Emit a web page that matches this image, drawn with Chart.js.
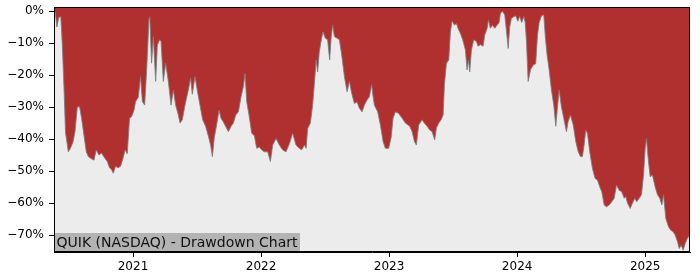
<!DOCTYPE html>
<html>
<head>
<meta charset="utf-8">
<script src="https://cdn.jsdelivr.net/npm/chart.js@4/dist/chart.umd.min.js"></script>
<style>
  html, body { margin: 0; padding: 0; background: #ffffff; }
  #wrap { position: relative; width: 700px; height: 280px; }
</style>
</head>
<body>
<div id="wrap"><canvas id="c" width="700" height="280"></canvas></div>
<script>
// Decimal-year time stamps (x) and drawdown in percent (y)
const dates = [
  2020.383, 2020.393, 2020.406, 2020.420, 2020.436, 2020.448, 2020.461, 2020.473, 2020.495, 2020.510,
  2020.531, 2020.547, 2020.565, 2020.583, 2020.598, 2020.617, 2020.635, 2020.651, 2020.669, 2020.695,
  2020.713, 2020.734, 2020.755, 2020.773, 2020.799, 2020.817, 2020.833, 2020.846, 2020.864, 2020.883,
  2020.903, 2020.922, 2020.938, 2020.955, 2020.973, 2020.989, 2021.008, 2021.020, 2021.041, 2021.059,
  2021.073, 2021.091, 2021.106, 2021.125, 2021.131, 2021.145, 2021.159, 2021.177, 2021.190, 2021.208,
  2021.219, 2021.237, 2021.255, 2021.276, 2021.297, 2021.315, 2021.333, 2021.354, 2021.367, 2021.385,
  2021.406, 2021.432, 2021.450, 2021.463, 2021.484, 2021.505, 2021.523, 2021.544, 2021.567, 2021.588,
  2021.606, 2021.620, 2021.635, 2021.653, 2021.672, 2021.688, 2021.705, 2021.723, 2021.745, 2021.766,
  2021.784, 2021.802, 2021.823, 2021.844, 2021.862, 2021.875, 2021.888, 2021.906, 2021.927, 2021.948,
  2021.966, 2021.987, 2022.005, 2022.026, 2022.052, 2022.073, 2022.091, 2022.117, 2022.143, 2022.169,
  2022.195, 2022.221, 2022.247, 2022.273, 2022.299, 2022.317, 2022.338, 2022.352, 2022.364, 2022.385,
  2022.403, 2022.416, 2022.430, 2022.442, 2022.455, 2022.473, 2022.484, 2022.502, 2022.520, 2022.536,
  2022.547, 2022.559, 2022.573, 2022.594, 2022.612, 2022.630, 2022.651, 2022.672, 2022.690, 2022.708,
  2022.729, 2022.750, 2022.768, 2022.789, 2022.807, 2022.828, 2022.846, 2022.864, 2022.873, 2022.885,
  2022.911, 2022.932, 2022.953, 2022.971, 2022.997, 2023.016, 2023.031, 2023.049, 2023.075, 2023.102,
  2023.127, 2023.161, 2023.180, 2023.198, 2023.213, 2023.231, 2023.258, 2023.275, 2023.297, 2023.317,
  2023.336, 2023.356, 2023.370, 2023.388, 2023.406, 2023.422, 2023.432, 2023.448, 2023.466, 2023.479,
  2023.492, 2023.510, 2023.526, 2023.539, 2023.557, 2023.575, 2023.596, 2023.609, 2023.620, 2023.630,
  2023.643, 2023.661, 2023.682, 2023.695, 2023.713, 2023.734, 2023.747, 2023.766, 2023.776, 2023.791,
  2023.807, 2023.825, 2023.844, 2023.859, 2023.870, 2023.885, 2023.903, 2023.916, 2023.930, 2023.942,
  2023.955, 2023.973, 2023.989, 2024.005, 2024.020, 2024.036, 2024.052, 2024.063, 2024.073, 2024.086,
  2024.104, 2024.125, 2024.145, 2024.159, 2024.172, 2024.190, 2024.208, 2024.221, 2024.234, 2024.250,
  2024.268, 2024.286, 2024.302, 2024.315, 2024.328, 2024.346, 2024.364, 2024.385, 2024.398, 2024.416,
  2024.438, 2024.458, 2024.477, 2024.495, 2024.510, 2024.523, 2024.536, 2024.549, 2024.567, 2024.588,
  2024.609, 2024.627, 2024.645, 2024.661, 2024.680, 2024.698, 2024.719, 2024.739, 2024.758, 2024.776,
  2024.797, 2024.817, 2024.836, 2024.848, 2024.862, 2024.883, 2024.901, 2024.919, 2024.934, 2024.953,
  2024.971, 2024.987, 2025.000, 2025.010, 2025.023, 2025.039, 2025.057, 2025.078, 2025.096, 2025.114,
  2025.130, 2025.143, 2025.161, 2025.182, 2025.200, 2025.219, 2025.234, 2025.252, 2025.266, 2025.281,
  2025.297, 2025.313, 2025.330, 2025.350
];
const drawdown = [
  0, -0.5, -5, -2, -1.8, -10.6, -24, -38, -44, -43,
  -41, -37.7, -30, -29.9, -33.4, -38.8, -44, -45.5, -46, -46.6,
  -43.4, -45, -44.4, -45.6, -47, -49, -49.6, -50.7, -48.5, -49,
  -48.5, -46, -43.4, -44.6, -33.5, -33, -31, -28.3, -27, -20.5,
  -28.3, -29.4, -19, -2.3, -1.8, -16.3, -8, -22, -10.6, -9,
  -9.5, -22, -16.3, -22, -29.4, -24.7, -29.4, -32.5, -35, -34,
  -29.4, -24.7, -21, -26, -20.5, -25.5, -29.4, -34, -36, -39,
  -41.9, -45.5, -39.5, -35.6, -31, -33.6, -34.6, -36, -37.7, -36,
  -35, -32.5, -31.5, -26.8, -23.6, -19.5, -28.3, -32.5, -38.2, -39,
  -42.9, -42.5, -43.4, -44, -44, -47, -41.9, -39.8, -41.9, -43.4,
  -44, -41.5, -38.2, -41.9, -42.9, -43.4, -41.9, -42.9, -36.7, -35,
  -29.4, -23, -15.3, -19, -12.7, -8.5, -6.5, -8.5, -9, -15.3,
  -8.5, -4.4, -8, -8.5, -9, -13.75, -20.5, -25.2, -22, -25.7,
  -28.9, -28.4, -30.4, -31.5, -29.4, -27.8, -26.8, -23, -26.2, -29.4,
  -31.5, -35.6, -40.8, -42.9, -42.9, -39.5, -33.5, -31.5, -32, -33.5,
  -35, -36, -37.7, -40.8, -41.9, -35.6, -34, -35, -36, -37.2,
  -37.7, -40.3, -36.5, -35, -34, -32.5, -23, -16.3, -15.3, -6.5,
  -3.1, -4.4, -3.9, -5.5, -7, -9, -12.2, -18.4, -15.3, -19,
  -12.2, -9, -9.5, -11, -10.5, -11, -7.5, -5.4, -2.8, -5.4,
  -4.4, -5.4, -4.4, -3.6, -0.7, -0.1, -1.2, -6, -11.7, -5,
  -2.3, -1.8, -1.5, -3.2, -1.7, -3.6, -1.7, -3.6, -9.6, -22,
  -18.4, -16.9, -16.5, -7.5, -3.6, -1.5, -1.2, -8.5, -13.75, -18.4,
  -24.7, -29.4, -36, -30, -24.7, -30, -33.5, -37.7, -34.6, -32.5,
  -35.6, -40.8, -44, -45.5, -45.5, -41.9, -37.2, -38.2, -44, -49.2,
  -52.3, -52.8, -54.9, -56.5, -60.6, -61.2, -60.6, -59.6, -58.5, -54.4,
  -56, -56.5, -58.5, -58, -60, -61.7, -60, -58.5, -59.6, -58.5,
  -57.4, -51.25, -42.9, -39.8, -46, -51.8, -51.25, -55, -57.4, -58.5,
  -60.6, -57.4, -64.8, -67.4, -68.5, -69, -70, -72, -74.2, -73.2,
  -74.7, -72.6, -71, -70
];
const yearTicks = [2021, 2022, 2023, 2024, 2025];
const percentTicks = [0, -10, -20, -30, -40, -50, -60, -70];
const chartLabel = 'QUIK (NASDAQ) - Drawdown Chart';

const FONT = { family: '"DejaVu Sans", sans-serif', size: 12 };
const LABEL_FONT_SIZE = 14;

const points = dates.map((d, i) => ({ x: d, y: drawdown[i] }));

const framePlugin = {
  id: 'frame',
  beforeDraw(chart) {
    const { ctx, chartArea: a } = chart;
    ctx.save();
    ctx.fillStyle = '#ececec';
    ctx.fillRect(a.left, a.top, a.right - a.left, a.bottom - a.top);
    ctx.restore();
  },
  afterDraw(chart) {
    const { ctx, chartArea: a } = chart;
    ctx.save();
    ctx.font = LABEL_FONT_SIZE + 'px ' + FONT.family;
    const tw = ctx.measureText(chartLabel).width;
    const bh = 19;
    ctx.fillStyle = '#b3b3b3';
    ctx.fillRect(a.left, a.bottom - bh, tw + 5, bh);
    ctx.fillStyle = '#111111';
    ctx.textBaseline = 'middle';
    ctx.fillText(chartLabel, a.left + 2.5, a.bottom - bh / 2 + 0.5);
    ctx.strokeStyle = '#000000';
    ctx.lineWidth = 1;
    ctx.strokeRect(Math.round(a.left) + 0.5, Math.round(a.top) + 0.5,
                   Math.round(a.right - a.left) - 1, Math.round(a.bottom - a.top) - 1);
    ctx.restore();
  }
};

new Chart(document.getElementById('c'), {
  type: 'line',
  data: {
    datasets: [{
      data: points,
      borderColor: 'rgba(125,125,125,0.85)',
      borderWidth: 1,
      backgroundColor: '#b03030',
      fill: 'end',
      pointRadius: 0,
      tension: 0
    }]
  },
  options: {
    responsive: false,
    animation: false,
    events: [],
    layout: { padding: { top: 0, right: 10, left: 0, bottom: 0 } },
    plugins: { legend: { display: false }, tooltip: { enabled: false }, title: { display: false } },
    scales: {
      x: {
        type: 'linear',
        min: dates[0],
        max: dates[dates.length - 1],
        afterBuildTicks(scale) { scale.ticks = yearTicks.map(v => ({ value: v })); },
        afterFit(scale) { scale.height = 28; scale.paddingLeft = 0; scale.paddingRight = 0; },
        ticks: {
          color: '#000000', font: FONT, padding: 3, maxRotation: 0, autoSkip: false,
          callback: v => String(v)
        },
        grid: { drawOnChartArea: false, drawTicks: true, tickLength: 5, color: '#000000', tickColor: '#000000' },
        border: { display: true, color: '#000000', width: 1 }
      },
      y: {
        type: 'linear',
        min: -75.3,
        max: 1.25,
        afterBuildTicks(scale) { scale.ticks = percentTicks.map(v => ({ value: v })); },
        afterFit(scale) { scale.width = 54; scale.paddingTop = 7; scale.paddingBottom = 0; },
        ticks: {
          color: '#000000', font: FONT, padding: 5, autoSkip: false,
          callback: v => (v < 0 ? '\u2212' + Math.abs(v) : String(v)) + '%'
        },
        grid: { drawOnChartArea: false, drawTicks: true, tickLength: 5, color: '#000000', tickColor: '#000000' },
        border: { display: true, color: '#000000', width: 1 }
      }
    }
  },
  plugins: [framePlugin]
});
</script>
</body>
</html>
